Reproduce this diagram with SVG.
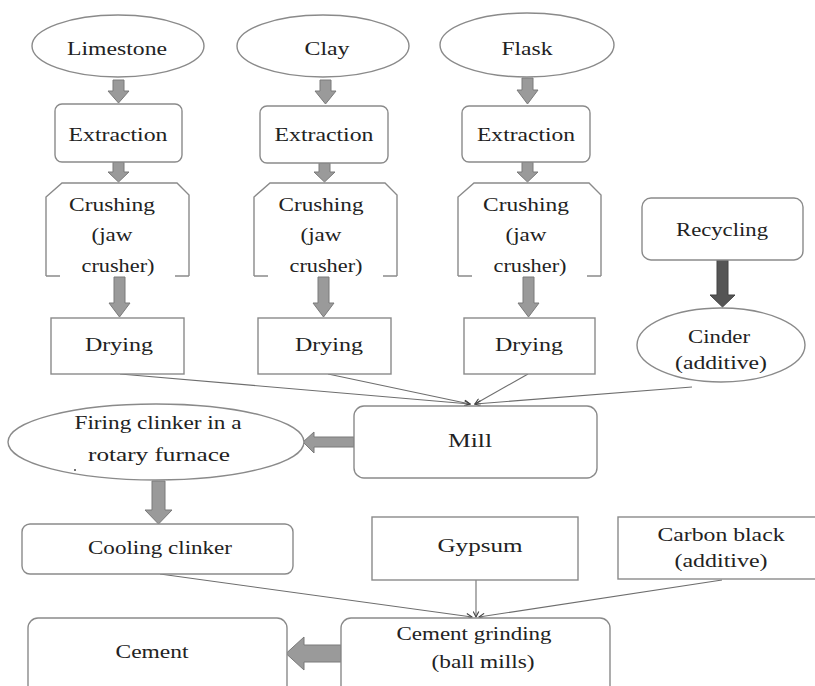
<svg xmlns="http://www.w3.org/2000/svg" width="815" height="686" viewBox="0 0 815 686">
<style>
.n{fill:#fff;stroke:#8a8a8a;stroke-width:1.4}
text{font-family:"Liberation Serif","Times New Roman","DejaVu Serif",serif;font-size:18px;fill:#222;text-anchor:middle}
.ba{fill:#9a9a9a;stroke:#7a7a7a;stroke-width:1}
.da{fill:#555;stroke:#444;stroke-width:1}
.c{fill:none;stroke:#6e6e6e;stroke-width:1.1}
</style>
<defs>
<marker id="ah" viewBox="0 0 10 10" refX="9" refY="5" markerWidth="7" markerHeight="7" orient="auto" markerUnits="userSpaceOnUse">
<path d="M1,1 L9,5 L1,9" fill="none" stroke="#444" stroke-width="1.6"/>
</marker>
</defs>
<rect width="815" height="686" fill="#fff"/>

<g id="connectors">
<line class="c" x1="120" y1="374" x2="470" y2="404" marker-end="url(#ah)"/>
<line class="c" x1="328" y1="374" x2="470" y2="404" marker-end="url(#ah)"/>
<line class="c" x1="528" y1="374" x2="475" y2="404" marker-end="url(#ah)"/>
<line class="c" x1="692" y1="387" x2="475" y2="404" marker-end="url(#ah)"/>
<line class="c" x1="160" y1="574" x2="472" y2="617" marker-end="url(#ah)"/>
<line class="c" x1="476" y1="580" x2="476" y2="617" marker-end="url(#ah)"/>
<line class="c" x1="722" y1="580" x2="479" y2="617" marker-end="url(#ah)"/>
<polygon class="ba" points="113,80 124,80 124,91 129,91 118.5,103 108,91 113,91"/>
<polygon class="ba" points="113,162 124,162 124,172 129,172 118.5,182 108,172 113,172"/>
<polygon class="ba" points="114,277 125,277 125,303 130,303 119.5,317 109,303 114,303"/>
<polygon class="ba" points="320,80 331,80 331,91 336,91 325.5,104 315,91 320,91"/>
<polygon class="ba" points="319,163 330,163 330,172 335,172 324.5,182 314,172 319,172"/>
<polygon class="ba" points="318,277 329,277 329,303 334,303 323.5,317 313,303 318,303"/>
<polygon class="ba" points="522,78 533,78 533,90 538,90 527.5,104 517,90 522,90"/>
<polygon class="ba" points="522,162 533,162 533,172 538,172 527.5,182 517,172 522,172"/>
<polygon class="ba" points="523,277 534,277 534,303 539,303 528.5,317 518,303 523,303"/>
<polygon class="da" points="717,260 728,260 728,295 735,295 722.5,307 710,295 717,295"/>
<polygon class="ba" points="354,437 314,437 314,432 303,442 314,453 314,447 354,447"/>
<polygon class="ba" points="152,481 165,481 165,510 172,510 158.5,524 145,510 152,510"/>
<polygon class="ba" points="341,645 304,645 304,637 286,653.5 304,670 304,662 341,662"/>
</g>

<g id="limestone"><ellipse class="n" cx="118" cy="46" rx="86" ry="31"/><text x="117" y="55" textLength="100" lengthAdjust="spacingAndGlyphs">Limestone</text></g>
<g id="clay"><ellipse class="n" cx="323" cy="46" rx="86" ry="31"/><text x="327" y="55" textLength="45" lengthAdjust="spacingAndGlyphs">Clay</text></g>
<g id="flask"><ellipse class="n" cx="527" cy="45" rx="87" ry="32"/><text x="527" y="55" textLength="51" lengthAdjust="spacingAndGlyphs">Flask</text></g>

<g id="extraction1"><rect class="n" x="55" y="104" width="127" height="58" rx="7"/><text x="118" y="141" textLength="99" lengthAdjust="spacingAndGlyphs">Extraction</text></g>
<g id="extraction2"><rect class="n" x="260" y="106" width="128" height="57" rx="7"/><text x="324" y="141" textLength="99" lengthAdjust="spacingAndGlyphs">Extraction</text></g>
<g id="extraction3"><rect class="n" x="462" y="106" width="128" height="56" rx="7"/><text x="526" y="141" textLength="98" lengthAdjust="spacingAndGlyphs">Extraction</text></g>

<g id="crushing1">
<path class="n" d="M46,276 L46,197 L62,183 L177,183 L189,195 L189,276"/>
<path class="n" d="M46,276 L60,276 M175,276 L189,276" fill="none"/>
<text x="112" y="211" textLength="86" lengthAdjust="spacingAndGlyphs">Crushing</text>
<text x="112" y="241" textLength="41" lengthAdjust="spacingAndGlyphs">(jaw</text>
<text x="118" y="272" textLength="73" lengthAdjust="spacingAndGlyphs">crusher)</text>
</g>
<g id="crushing2">
<path class="n" d="M254,276 L254,197 L270,183 L385,183 L397,195 L397,276"/>
<path class="n" d="M254,276 L268,276 M383,276 L397,276" fill="none"/>
<text x="321" y="211" textLength="85" lengthAdjust="spacingAndGlyphs">Crushing</text>
<text x="321" y="241" textLength="41" lengthAdjust="spacingAndGlyphs">(jaw</text>
<text x="326" y="272" textLength="73" lengthAdjust="spacingAndGlyphs">crusher)</text>
</g>
<g id="crushing3">
<path class="n" d="M458,276 L458,197 L474,183 L589,183 L601,195 L601,276"/>
<path class="n" d="M458,276 L472,276 M587,276 L601,276" fill="none"/>
<text x="526" y="211" textLength="86" lengthAdjust="spacingAndGlyphs">Crushing</text>
<text x="526" y="241" textLength="41" lengthAdjust="spacingAndGlyphs">(jaw</text>
<text x="530" y="272" textLength="73" lengthAdjust="spacingAndGlyphs">crusher)</text>
</g>

<g id="drying1"><rect class="n" x="51" y="318" width="133" height="56"/><text x="119" y="351" textLength="68" lengthAdjust="spacingAndGlyphs">Drying</text></g>
<g id="drying2"><rect class="n" x="258" y="318" width="133" height="56"/><text x="329" y="351" textLength="68" lengthAdjust="spacingAndGlyphs">Drying</text></g>
<g id="drying3"><rect class="n" x="464" y="318" width="131" height="56"/><text x="529" y="351" textLength="68" lengthAdjust="spacingAndGlyphs">Drying</text></g>

<g id="recycling"><rect class="n" x="642" y="198" width="161" height="62" rx="9"/><text x="722" y="236" textLength="92" lengthAdjust="spacingAndGlyphs">Recycling</text></g>
<g id="cinder"><ellipse class="n" cx="721" cy="345" rx="84" ry="37"/>
<text x="719" y="343" textLength="62" lengthAdjust="spacingAndGlyphs">Cinder</text>
<text x="721" y="369" textLength="92" lengthAdjust="spacingAndGlyphs">(additive)</text></g>

<g id="mill"><rect class="n" x="354" y="406" width="243" height="72" rx="10"/><text x="470" y="447" textLength="44" lengthAdjust="spacingAndGlyphs">Mill</text></g>

<g id="firing"><ellipse class="n" cx="156" cy="442" rx="148" ry="38"/>
<text x="158" y="429" textLength="167" lengthAdjust="spacingAndGlyphs">Firing clinker in a</text>
<text x="159" y="461" textLength="142" lengthAdjust="spacingAndGlyphs">rotary furnace</text>
<circle cx="75" cy="470" r="1" fill="#444"/></g>

<g id="cooling"><rect class="n" x="22" y="524" width="271" height="50" rx="8"/><text x="160" y="554" textLength="144" lengthAdjust="spacingAndGlyphs">Cooling clinker</text></g>
<g id="gypsum"><rect class="n" x="372" y="517" width="206" height="63"/><text x="480" y="552" textLength="85" lengthAdjust="spacingAndGlyphs">Gypsum</text></g>
<g id="carbon"><rect class="n" x="618" y="517" width="200" height="62"/>
<text x="721" y="541" textLength="127" lengthAdjust="spacingAndGlyphs">Carbon black</text>
<text x="721" y="567" textLength="93" lengthAdjust="spacingAndGlyphs">(additive)</text></g>

<g id="grinding"><rect class="n" x="341" y="618" width="269" height="80" rx="10"/>
<text x="474" y="640" textLength="155" lengthAdjust="spacingAndGlyphs">Cement grinding</text>
<text x="483" y="668" textLength="103" lengthAdjust="spacingAndGlyphs">(ball mills)</text></g>
<g id="cement"><rect class="n" x="28" y="618" width="259" height="80" rx="10"/><text x="152" y="658" textLength="73" lengthAdjust="spacingAndGlyphs">Cement</text></g>
</svg>
